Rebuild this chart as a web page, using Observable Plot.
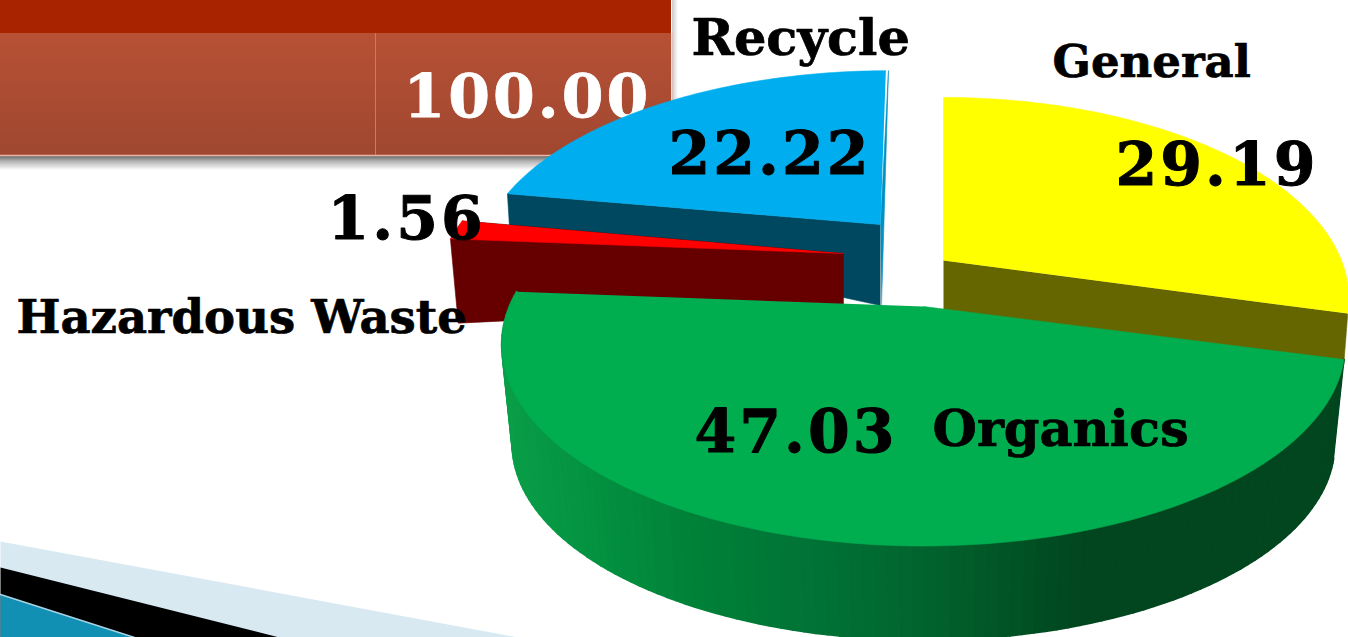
<!DOCTYPE html>
<html><head><meta charset="utf-8">
<script src="https://cdn.jsdelivr.net/npm/d3@7"></script>
<script src="https://cdn.jsdelivr.net/npm/@observablehq/plot@0.6"></script>
<style>html,body{margin:0;padding:0;background:#fff;overflow:hidden}svg{display:block}
.nums text{letter-spacing:.05em}</style>
</head><body><div id="chart"></div>
<script>
const categories = ["General", "Organics", "Hazardous Waste", "Recycle"];
const shares = [29.19, 47.03, 1.56, 22.22];
const shareLabels = ["29.19", "47.03", "1.56", "22.22"];
const totalLabel = "100.00";
const topColors = ["#ffff00", "#00ae50", "#ff0000", "#00aeef"];
const wallColors = ["#666600", "#00662f", "#660000", "#004860"];

// Perspective disc: each exploded slice has its own hub and radii on the page.
const K = 0.19, W = 1348, H = 637;
const slices = [
  {hub:[943,260], rx:398, ry:194, drop:52, rimDrop:52, inset:0.99, shear:0},
  {hub:[923,306], rx:414, ry:194, drop:100, rimDrop:100, inset:0.975, shear:0},
  {hub:[843,253], rx:400, ry:194, drop:51, rimDrop:84, inset:0.98, shear:0},
  {hub:[880,224], rx:393, ry:183, drop:81, rimDrop:31, inset:0.995, shear:9.5}
];
const total = d3.sum(shares);
let acc = 0;
const angles = shares.map(s => { const a0 = acc / total * 2 * Math.PI; acc += s; return [a0, acc / total * 2 * Math.PI]; });

function project(g, a, lower = false) {
  const u = Math.sin(a), v = Math.cos(a), s = 1 / (1 + K * v), f = lower ? g.inset : 1;
  return [g.hub[0] + (g.rx * f * u + g.shear * v) * s, g.hub[1] + (lower ? g.rimDrop : 0) - g.ry * f * v * s];
}
function arc(g, a0, a1, lower, n = 80) {
  return d3.range(n + 1).map(i => project(g, a0 + (a1 - a0) * i / n, lower));
}
const polys = [], rimPolys = [];
function add(id, pts, color, list = polys) { pts.forEach(p => list.push({id, x:p[0], y:p[1], color})); }

function topFace(i, trim = 0) {
  const g = slices[i], [a0,a1] = angles[i];
  add("top"+i, [g.hub, ...arc(g,a0,a1-trim,false)], topColors[i]);
}
function cutWall(i, a) {
  const g = slices[i];
  const p = project(g,a), q = project(g,a,true);
  add("cut"+i+a, [g.hub, p, q, [g.hub[0], g.hub[1]+g.drop]], wallColors[i]);
}
function sliver(i, a, color) {
  const g = slices[i];
  add("sliver"+i, [g.hub, project(g,a), [g.hub[0]+1, g.hub[1]+g.drop]], color);
}
const rimScale = d3.scaleLinear()
  .domain([500,600,700,800,880,950,1080,1345])
  .range(["#0a9e48","#039040","#008038","#007436","#016a30","#015f2c","#01461f","#01461f"]);
function rim(i, a0, a1, n = 90, colorOf = () => wallColors[i], list = polys) {
  const g = slices[i];
  for (let k = 0; k < n; k++) {
    const b0 = a0 + (a1-a0)*k/n, b1 = a0 + (a1-a0)*(k+1)/n;
    const p0=project(g,b0), p1=project(g,b1), q1=project(g,b1,true), q0=project(g,b0,true);
    add(`rim${i}-${k}`, [p0,p1,q1,q0], colorOf((p0[0]+p1[0])/2), list);
  }
}
// Paint order follows the picture: recycle, hazardous, general, organics.
cutWall(3, angles[3][0]); sliver(3, angles[3][1], "#0090c2"); topFace(3, 0.008);
cutWall(2, angles[2][1]); cutWall(2, angles[2][0]); topFace(2);
cutWall(0, angles[0][1]); topFace(0);
rim(1, angles[1][0], angles[1][1], 120, x => rimScale(x), rimPolys);
const greenTop = [];
{ const g = slices[1], [a0,a1] = angles[1];
  add("top1", [g.hub, ...arc(g,a0,a1,false)], topColors[1], greenTop); }

const backdrop = {
  band:[[0,541],[518,637],[0,637]], ink:[[0,567],[279,637],[0,637]], teal:[[0,594],[134,637],[0,637]]
};
const rows = o => Object.entries(o).flatMap(([id,pts]) => pts.map(p => ({id,x:p[0],y:p[1]})));
const bg = rows(backdrop);
const bgFill = {band:"#d8e9f1", ink:"#000000", teal:"#1190b3"};

const numbers = [
  {t:totalLabel, x:403, y:116, fill:"#fff", size:60},
  {t:shareLabels[0], x:1115, y:184, fill:"#000", size:60},
  {t:shareLabels[1], x:694, y:451, fill:"#000", size:60},
  {t:shareLabels[2], x:327, y:238, fill:"#000", size:60},
  {t:shareLabels[3], x:668, y:173, fill:"#000", size:60}
];
const names = [
  {t:categories[3], x:691, y:54, size:51},
  {t:categories[0], x:1052, y:76, size:45},
  {t:categories[2], x:16, y:332, size:46.5},
  {t:categories[1], x:932, y:445, size:51}
];

const defs = () => {
  const d = d3.create("svg:defs");
  const grad = (id, stops, horiz) => {
    const lg = d.append("linearGradient").attr("id",id).attr("x1",0).attr("y1",0).attr("x2",horiz?1:0).attr("y2",horiz?0:1);
    stops.forEach(([o,c]) => lg.append("stop").attr("offset",o).attr("stop-color",c));
  };
  grad("cell", [[0,"#b65135"],[1,"#a04730"]]);
  grad("shadeB", [[0,"#6a6a6a"],[0.35,"#b0b0b0"],[1,"#ffffff"]]);
  grad("shadeR", [[0,"#c8c8c8"],[1,"#ffffff"]], true);
  return d.node();
};

const box = (x1,x2,y1,y2,fill) => Plot.rect([{x1,x2,y1,y2}], {x1:"x1",x2:"x2",y1:"y1",y2:"y2",fill:()=>fill});

const plot = Plot.plot({
  width:W, height:H, margin:0,
  x:{domain:[0,W], range:[0,W], axis:null},
  y:{domain:[0,H], range:[0,H], axis:null},
  color:{type:"identity"},
  style:{background:"#fff"},
  marks:[
    defs,
    Plot.line(bg, {x:"x", y:"y", z:"id", fill:d=>bgFill[d.id], stroke:null, curve:"linear"}),
    Plot.line([{x:0,y:594},{x:134,y:637}], {x:"x", y:"y", stroke:"#a8d4e4", strokeWidth:1.5}),
    box(0,672,156,170,"url(#shadeB)"),
    box(672,678,0,168,"url(#shadeR)"),
    box(0,671,0,33,"#a82400"),
    box(0,671,33,155,"url(#cell)"),
    Plot.ruleY([155], {x1:0, x2:672, stroke:"#e9b5a8", strokeWidth:1.5}),
    Plot.ruleX([671.5], {y1:33, y2:155, stroke:"#e9b5a8", strokeWidth:1}),
    Plot.ruleX([375], {y1:33, y2:155, stroke:"#c67d68", strokeWidth:1}),
    Plot.text(numbers.slice(0,1), {x:"x", y:"y", text:"t", fill:"fill", stroke:"fill", strokeWidth:0.8, fontSize:"size", fontFamily:"DejaVu Serif", fontWeight:"bold", textAnchor:"start", lineAnchor:"bottom", className:"nums"}),
    Plot.line(polys, {x:"x", y:"y", z:"id", fill:"color", stroke:"color", strokeWidth:0.6, curve:"linear"}),
    Plot.line(rimPolys, {x:"x", y:"y", z:"id", fill:"color", stroke:"color", strokeWidth:2, curve:"linear"}),
    Plot.line(greenTop, {x:"x", y:"y", z:"id", fill:"color", stroke:"color", strokeWidth:0.6, curve:"linear"}),
    Plot.text(numbers.slice(1), {x:"x", y:"y", text:"t", fill:"fill", stroke:"fill", strokeWidth:1, fontSize:"size", fontFamily:"DejaVu Serif", fontWeight:"bold", textAnchor:"start", lineAnchor:"bottom", className:"nums"}),
    Plot.text(names, {x:"x", y:"y", text:"t", fill:"#000", stroke:"#000", strokeWidth:0.7, fontSize:"size", fontFamily:"DejaVu Serif", fontWeight:"bold", textAnchor:"start", lineAnchor:"bottom"})
  ]
});
document.getElementById("chart").append(plot);
</script></body></html>
